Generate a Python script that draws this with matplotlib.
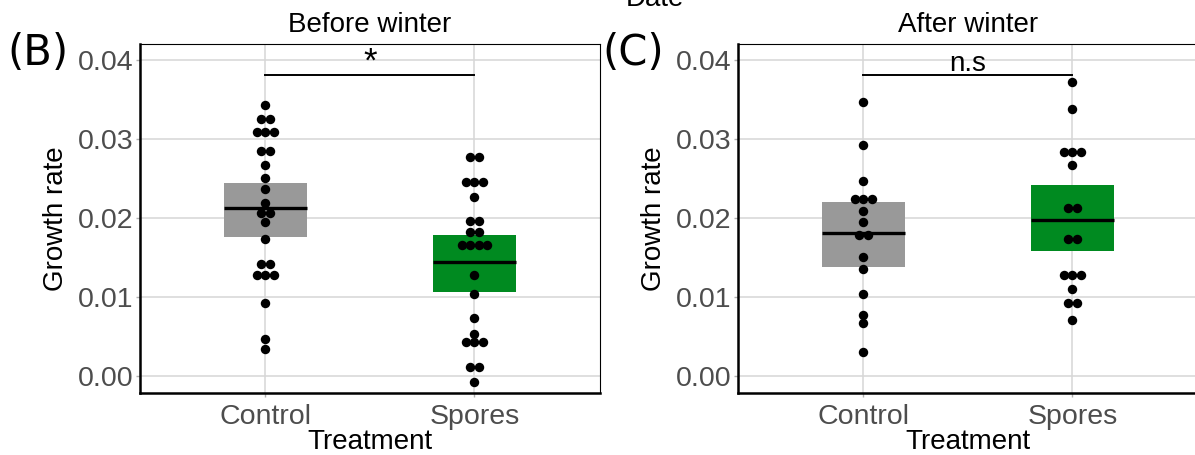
import numpy as np
import matplotlib
matplotlib.use("Agg")
import matplotlib.pyplot as plt

# ---------------- data ----------------
categories = ["Control", "Spores"]
panel_titles = ["Before winter", "After winter"]
panel_tags = ["(B)", "(C)"]
sig_labels = ["*", "n.s"]
sig_height = 0.0381

# dot levels (growth rate) and number of dots stacked at each level
ctrl_before_levels = [0.03426, 0.03257, 0.03093, 0.02848, 0.02675, 0.02506, 0.02367, 0.02194,
                      0.02059, 0.01945, 0.01730, 0.01418, 0.01278, 0.00924, 0.00468, 0.00338]
ctrl_before_counts = [1, 2, 3, 2, 1, 1, 1, 1, 2, 1, 1, 2, 3, 1, 1, 1]
spor_before_levels = [0.02772, 0.02460, 0.02266, 0.01958, 0.01823, 0.01658, 0.01274, 0.01034,
                      0.00734, 0.00536, 0.00430, 0.00118, -0.00076]
spor_before_counts = [2, 3, 1, 2, 2, 4, 1, 1, 1, 1, 3, 2, 1]
ctrl_after_levels = [0.03468, 0.02924, 0.02468, 0.02236, 0.02084, 0.01954, 0.01781, 0.01511,
                     0.01354, 0.01038, 0.00776, 0.00667, 0.00308]
ctrl_after_counts = [1, 1, 1, 3, 1, 1, 2, 1, 1, 1, 1, 1, 1]
spor_after_levels = [0.03722, 0.03384, 0.02835, 0.02667, 0.02127, 0.01734, 0.01283, 0.01105,
                     0.00924, 0.00713]
spor_after_counts = [1, 1, 3, 1, 2, 2, 3, 1, 2, 1]

# box statistics: lower quartile, median, upper quartile
box_q1_before = [0.01759, 0.01063]
box_med_before = [0.02122, 0.01439]
box_q3_before = [0.02447, 0.01789]
box_q1_after = [0.01380, 0.01578]
box_med_after = [0.01806, 0.01975]
box_q3_after = [0.02198, 0.02414]

box_colors = ["#999999", "#008a20"]

# ---------------- style ----------------
W, H = 1195, 455
FONT = "Liberation Sans"
plt.rcParams["font.family"] = [FONT, "DejaVu Sans"]

fig = plt.figure(figsize=(W / 100, H / 100), dpi=100)
px_per_unit = 209.0
axes_rects = [(140, 62, 2.2 * px_per_unit, 349), (738, 62, 2.2 * px_per_unit, 349)]

dot_d = 8.3 / px_per_unit  # horizontal spacing of stacked dots in data units

panels = [
    ([(ctrl_before_levels, ctrl_before_counts), (spor_before_levels, spor_before_counts)],
     box_q1_before, box_med_before, box_q3_before),
    ([(ctrl_after_levels, ctrl_after_counts), (spor_after_levels, spor_after_counts)],
     box_q1_after, box_med_after, box_q3_after),
]

tag_x = [7, 602]
sig_sizes = [25, 20]

for i, (groups, q1s, meds, q3s) in enumerate(panels):
    l, b, w, h = axes_rects[i]
    ax = fig.add_axes([l / W, b / H, w / W, h / H])
    ax.set_xlim(0.4, 2.6)
    ax.set_ylim(-0.00215, 0.0420)

    # boxes
    stats = []
    for k in range(len(categories)):
        stats.append(dict(q1=q1s[k], med=meds[k], q3=q3s[k],
                          whislo=q1s[k], whishi=q3s[k], fliers=[], label=categories[k]))
    bp = ax.bxp(stats, positions=[1, 2], widths=0.4, patch_artist=True,
                showcaps=False, showfliers=False,
                medianprops=dict(color="black", linewidth=2.4),
                whiskerprops=dict(linewidth=0),
                boxprops=dict(linewidth=0))
    for patch, c in zip(bp["boxes"], box_colors):
        patch.set_facecolor(c)
        patch.set_edgecolor(c)
        patch.set_zorder(2)
    for m in bp["medians"]:
        m.set_zorder(3)

    # dots (centered stacks)
    for k, (levels, counts) in enumerate(groups):
        xs, ys = [], []
        for lv, n in zip(levels, counts):
            for j in range(n):
                xs.append(k + 1 + (j - (n - 1) / 2) * dot_d)
                ys.append(lv)
        ax.plot(xs, ys, "o", color="black", markersize=6.8, markeredgewidth=0, zorder=4)

    # significance bar
    ax.plot([1, 2], [sig_height, sig_height], color="black", linewidth=1.4, zorder=5)
    ax.text(1.5, 0.03855, sig_labels[i], ha="center", va="baseline", fontsize=sig_sizes[i],
            family=[FONT, "DejaVu Sans"], zorder=5)

    # axes cosmetics
    ax.set_xticks([1, 2])
    ax.set_xticklabels(categories)
    yt = [0.0, 0.01, 0.02, 0.03, 0.04]
    ax.set_yticks(yt)
    ax.set_yticklabels([f"{v:.2f}" for v in yt])
    ax.grid(True, color="#D6D6D6", linewidth=1.1, zorder=0)
    ax.set_axisbelow(True)
    ax.tick_params(axis="both", colors="#B0B0B0", labelcolor="#4D4D4D", labelsize=20.5,
                   length=3, width=1)
    ax.tick_params(axis="x", pad=5)
    ax.tick_params(axis="y", pad=2)
    for s in ["left", "bottom"]:
        ax.spines[s].set_linewidth(1.8)
        ax.spines[s].set_color("black")
    for s in ["top", "right"]:
        ax.spines[s].set_linewidth(0.8)
        ax.spines[s].set_color("black")

    ax.set_xlabel("Treatment", fontsize=20, labelpad=-1)
    ax.set_ylabel("Growth rate", fontsize=20, labelpad=6)
    ax.set_title(panel_titles[i], fontsize=20, pad=9)

    fig.text(tag_x[i] / W, 1 - 53 / H, panel_tags[i], fontsize=30, family="DejaVu Sans",
             ha="left", va="center")

fig.text(655 / W, 1 - 6 / H, "Date", fontsize=20, ha="center", va="baseline")

fig.savefig("out.png", dpi=100)
